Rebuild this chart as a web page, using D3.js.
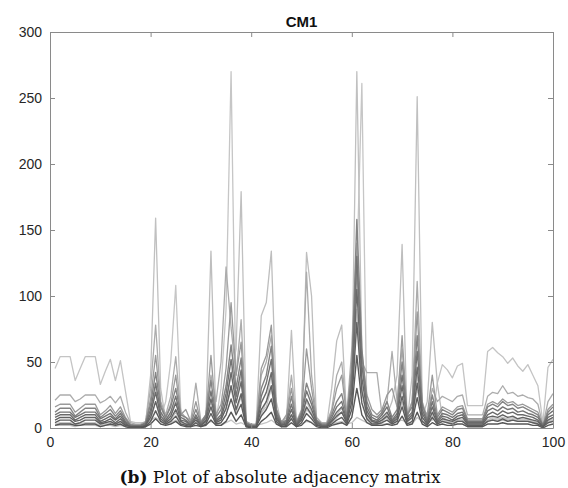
<!DOCTYPE html>
<html>
<head>
<meta charset="utf-8">
<script src="https://cdn.jsdelivr.net/npm/d3@7"></script>
<style>
  body { margin: 0; background: #fff; }
  .tick text { font-family: "Liberation Sans", Arial, sans-serif; font-size: 14px; fill: #262626; }
  .line { fill: none; stroke-linejoin: round; }
</style>
</head>
<body>
<div id="chart"></div>
<script>
// node index 1..100
const xs = d3.range(1, 101);

// light rows (outliers / tall spikes)
const rowA = [45,54,54,54,36,45,54,54,54,33,43,52,36,51,28,5,
  4,4,4,6,
  8,5,3,4,6,3,2,3,4,2,
  3,5,3,2,4,6,3,4,2,2,
  2,3,4,6,3,2,2,4,2,3,
  5,4,2,2,2,3,4,5,3,4,
  8,6,4,3,3,3,3,4,5,6,
  4,3,8,5,4,6,34,48,44,38,
  47,49,17,17,17,17,58,61,57,54,
  49,53,47,43,48,40,32,4,46,52];
const rowB = [3,4,4,4,3,3,4,4,4,2,3,4,3,4,2,1,
  1,1,2,10,
  30,8,20,50,108,14,4,3,6,2,
  4,20,6,30,90,270,20,40,3,2,
  2,10,20,40,8,3,4,10,3,6,
  20,12,4,2,2,6,10,15,5,30,
  120,261,10,6,4,6,10,4,8,20,
  4,8,30,8,3,10,4,6,5,4,
  6,6,3,3,3,3,6,8,7,8,
  7,8,6,7,6,5,4,1,5,7];
const rowC = [2,3,3,3,2,2,3,3,3,2,2,3,2,3,1,1,
  1,1,3,40,
  159,30,6,10,20,5,3,2,4,2,
  4,16,4,8,20,40,60,179,4,2,
  2,12,16,30,6,2,3,8,2,4,
  14,10,3,2,2,4,8,12,4,40,
  270,60,8,5,3,5,8,3,6,20,
  4,40,251,20,3,8,3,5,4,3,
  5,5,2,2,2,2,5,6,5,6,
  5,6,5,5,5,4,3,1,4,5];
const rowD = [2,2,2,2,1,2,2,2,2,1,2,2,1,2,1,0,
  0,0,1,6,
  20,6,3,6,12,4,3,2,4,2,
  8,134,6,8,14,30,12,24,2,1,
  3,85,95,134,20,3,6,74,3,8,
  133,100,4,2,2,30,66,78,6,24,
  90,30,6,4,3,6,10,20,40,139,
  6,10,40,8,20,80,34,8,6,4,
  6,6,3,3,3,3,6,7,6,8,
  6,7,5,6,5,4,4,1,4,6];
const rowE = [21,25,25,25,20,22,25,25,25,19,21,24,19,24,12,4,
  3,3,5,30,
  78,20,10,24,54,12,8,6,34,5,
  10,40,20,50,122,76,40,82,5,3,
  3,40,50,70,12,5,8,40,5,14,
  118,40,8,4,4,14,40,50,10,60,
  140,50,42,42,42,10,20,58,20,60,
  10,20,111,20,8,30,20,24,22,20,
  24,25,10,10,10,10,24,27,26,32,
  26,27,24,25,23,22,18,2,20,26];
const rowF = [16,18,18,18,12,15,18,18,18,10,13,17,11,16,8,3,
  2,2,4,22,
  55,18,8,18,40,10,14,5,20,4,
  10,55,10,18,45,95,40,65,4,2,
  2,45,55,78,14,4,10,30,4,12,
  60,30,6,3,3,12,30,40,8,50,
  118,55,25,14,10,14,25,30,16,70,
  8,20,88,16,10,40,10,16,14,12,
  16,17,7,7,7,7,18,20,18,22,
  19,20,17,18,16,14,12,2,14,18];

// dense dark band
const band1 = [12,15,15,15,9,12,15,15,15,8,11,14,9,13,7,2,
  2,2,4,18,
  42,16,8,16,30,10,8,4,14,4,
  10,36,8,14,32,63,30,53,4,2,
  2,30,40,62,14,4,6,24,4,12,
  34,22,6,3,3,10,20,26,8,42,
  158,60,20,10,8,12,20,8,14,50,
  10,16,70,18,6,25,8,14,12,10,
  14,15,6,6,6,6,16,18,16,20,
  17,18,15,16,14,12,10,2,12,16];
const band2 = [10,12,12,12,8,10,12,12,12,7,9,11,7,11,5,2,
  2,2,3,14,
  34,12,6,12,24,8,6,3,10,3,
  8,28,6,10,26,52,24,44,3,2,
  2,24,34,52,11,3,5,18,3,10,
  28,18,5,2,2,8,16,20,6,34,
  130,48,16,8,6,10,16,6,11,40,
  8,12,58,14,5,20,6,11,10,8,
  11,12,5,5,5,5,13,15,13,16,
  14,15,12,13,11,10,8,2,10,13];
const band3 = [8,10,10,10,6,8,10,10,10,5,7,9,6,9,4,1,
  1,1,2,11,
  27,9,5,9,19,6,5,2,8,2,
  6,22,5,8,20,42,19,35,2,1,
  1,19,27,42,9,2,4,14,2,8,
  22,14,4,2,2,6,12,16,5,27,
  105,38,13,6,5,8,12,5,9,32,
  6,10,46,11,4,16,5,9,8,6,
  9,10,4,4,4,4,10,12,10,13,
  11,12,10,10,9,8,6,1,8,10];
const band4 = [6,8,8,8,5,6,8,8,8,4,5,7,4,7,3,1,
  1,1,2,8,
  20,7,4,7,14,5,3,2,6,2,
  5,16,4,6,15,32,14,26,2,1,
  1,14,20,32,7,2,3,10,2,6,
  16,10,3,1,1,5,9,12,4,20,
  80,28,10,5,4,6,9,4,7,24,
  5,8,34,8,3,12,4,7,6,5,
  7,8,3,3,3,3,8,9,8,10,
  8,9,7,8,7,6,5,1,6,8];
const band5 = [4,6,6,6,3,4,6,6,6,3,4,5,3,5,2,1,
  1,1,1,5,
  13,5,3,5,9,3,2,1,4,1,
  3,11,3,4,10,22,10,18,1,1,
  1,9,14,22,5,1,2,7,1,4,
  11,7,2,1,1,3,6,8,3,14,
  55,19,7,3,3,4,6,3,5,16,
  3,5,23,5,2,8,3,5,4,3,
  5,5,2,2,2,2,5,6,5,7,
  5,6,5,5,5,4,3,1,4,5];
const band6 = [2,3,3,3,2,2,3,3,3,1,2,3,2,3,1,0,
  0,0,1,3,
  7,3,2,3,5,2,1,1,2,1,
  2,6,2,2,5,12,5,10,1,0,
  0,5,8,12,3,1,1,4,1,2,
  6,4,1,0,0,2,3,4,2,8,
  30,10,4,2,2,2,3,2,3,9,
  2,3,12,3,1,4,2,3,2,2,
  3,3,1,1,1,1,3,3,3,4,
  3,3,3,3,3,2,2,0,2,3];

const xTicks = [0, 20, 40, 60, 80, 100];
const yTicks = [0, 50, 100, 150, 200, 250, 300];

const series = [
  { name: 'rowA', values: rowA, color: '#c4c4c4', w: 1.3 },
  { name: 'rowB', values: rowB, color: '#c6c6c6', w: 1.3 },
  { name: 'rowC', values: rowC, color: '#c0c0c0', w: 1.3 },
  { name: 'rowD', values: rowD, color: '#bebebe', w: 1.3 },
  { name: 'rowE', values: rowE, color: '#acacac', w: 1.3 },
  { name: 'rowF', values: rowF, color: '#9a9a9a', w: 1.3 },
  { name: 'band1', values: band1, color: '#848484', w: 1.4 },
  { name: 'band2', values: band2, color: '#747474', w: 1.4 },
  { name: 'band3', values: band3, color: '#6a6a6a', w: 1.4 },
  { name: 'band4', values: band4, color: '#626262', w: 1.4 },
  { name: 'band5', values: band5, color: '#5c5c5c', w: 1.4 },
  { name: 'band6', values: band6, color: '#565656', w: 1.4 }
];

const width = 568, height = 488;
const margin = { top: 32, right: 15, bottom: 60, left: 50 };

const svg = d3.select('#chart').append('svg')
  .attr('width', width).attr('height', height);

const x = d3.scaleLinear().domain([0, 100]).range([margin.left, width - margin.right]);
const y = d3.scaleLinear().domain([0, 300]).range([height - margin.bottom, margin.top]);

const line = d3.line().x((d, i) => x(xs[i])).y(d => y(d));

const plot = svg.append('g');
plot.selectAll('path')
  .data(series).join('path')
  .attr('class', 'line')
  .attr('stroke', d => d.color)
  .attr('stroke-width', d => d.w)
  .attr('d', d => line(d.values));

// axes, MATLAB style box with inward ticks
const axisColor = '#8a8a8a';
const styleAxis = g => {
  g.select('.domain').attr('stroke', axisColor);
  g.selectAll('.tick line').attr('stroke', axisColor);
};

svg.append('g')
  .attr('transform', `translate(0,${y(0)})`)
  .call(d3.axisBottom(x).tickValues(xTicks).tickSizeInner(-5).tickSizeOuter(0).tickPadding(9))
  .call(styleAxis);

svg.append('g')
  .attr('transform', `translate(${x(0)},0)`)
  .call(d3.axisLeft(y).tickValues(yTicks).tickSizeInner(-5).tickSizeOuter(0).tickPadding(8))
  .call(styleAxis);

svg.append('g')
  .attr('transform', `translate(0,${y(300)})`)
  .call(d3.axisTop(x).tickValues(xTicks).tickSizeInner(-5).tickSizeOuter(0).tickFormat(''))
  .call(styleAxis);

svg.append('g')
  .attr('transform', `translate(${x(100)},0)`)
  .call(d3.axisRight(y).tickValues(yTicks).tickSizeInner(-5).tickSizeOuter(0).tickFormat(''))
  .call(styleAxis);

svg.append('text')
  .attr('x', (x(0) + x(100)) / 2).attr('y', 27)
  .attr('text-anchor', 'middle')
  .style('font-family', '"Liberation Sans", Arial, sans-serif')
  .style('font-weight', 'bold').style('font-size', '15px').style('fill', '#111')
  .text('CM1');

const caption = svg.append('text')
  .attr('x', 280).attr('y', 483)
  .attr('text-anchor', 'middle')
  .style('font-family', '"DejaVu Serif", "Liberation Serif", serif')
  .style('font-size', '17px').style('fill', '#111');
caption.append('tspan').style('font-weight', 'bold').text('(b)');
caption.append('tspan').text(' Plot of absolute adjacency matrix');
</script>
</body>
</html>
